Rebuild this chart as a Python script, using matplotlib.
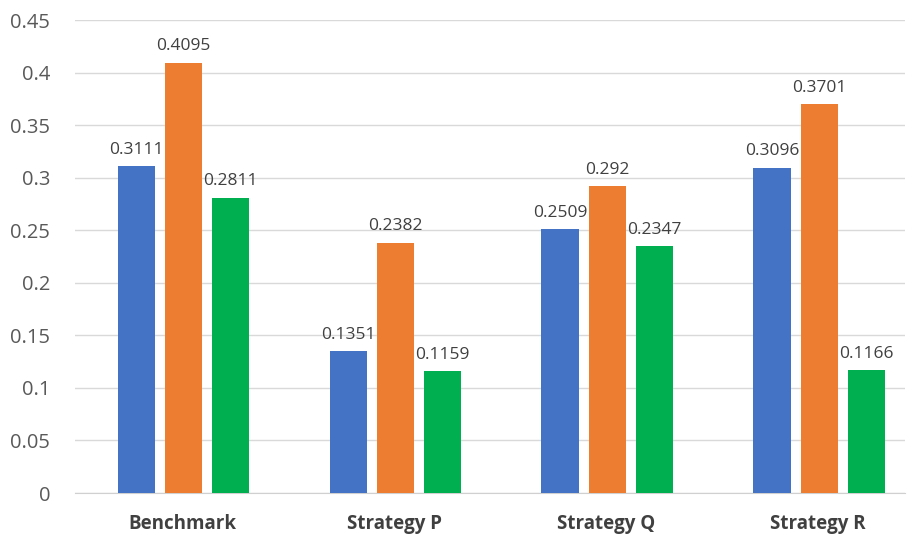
import numpy as np
import matplotlib
matplotlib.use("Agg")
import matplotlib.pyplot as plt

categories = ["Benchmark", "Strategy P", "Strategy Q", "Strategy R"]
series_blue = [0.3111, 0.1351, 0.2509, 0.3096]
series_orange = [0.4095, 0.2382, 0.292, 0.3701]
series_green = [0.2811, 0.1159, 0.2347, 0.1166]
yticks = [0, 0.05, 0.1, 0.15, 0.2, 0.25, 0.3, 0.35, 0.4, 0.45]
ytick_labels = ["0", "0.05", "0.1", "0.15", "0.2", "0.25", "0.3", "0.35", "0.4", "0.45"]

colors = ["#4472C4", "#ED7D31", "#00B050"]
plt.rcParams["font.family"] = ["Open Sans", "DejaVu Sans"]

fig = plt.figure(figsize=(9.15, 5.35), dpi=100)
ax = fig.add_axes([0.082, 0.0785, 0.907, 0.884])

x = np.arange(len(categories))
width = 0.175
step = 0.222
for i, (vals, c) in enumerate(zip([series_blue, series_orange, series_green], colors)):
    pos = x + (i - 1) * step + 0.005
    ax.bar(pos, vals, width=width, color=c, zorder=3)
    for px, v in zip(pos, vals):
        ax.text(px, v + 0.008, f"{v:g}", ha="center", va="bottom",
                fontsize=12.5, color="#404040")

ax.set_ylim(0, 0.45)
ax.set_xlim(-0.505, 3.41)
ax.set_yticks(yticks)
ax.set_yticklabels(ytick_labels, fontsize=14.5, color="#595959")
ax.set_xticks(x)
ax.set_xticklabels(categories, fontsize=13.5, fontweight="bold", color="#404040")
ax.tick_params(axis="both", length=0)
ax.tick_params(axis="x", pad=15)
ax.tick_params(axis="y", pad=18)
ax.grid(axis="y", color="#D9D9D9", linewidth=1, zorder=0)
for s in ["top", "right", "left"]:
    ax.spines[s].set_visible(False)
ax.spines["bottom"].set_color("#D0D0D0")

fig.savefig("out.png", dpi=100)
